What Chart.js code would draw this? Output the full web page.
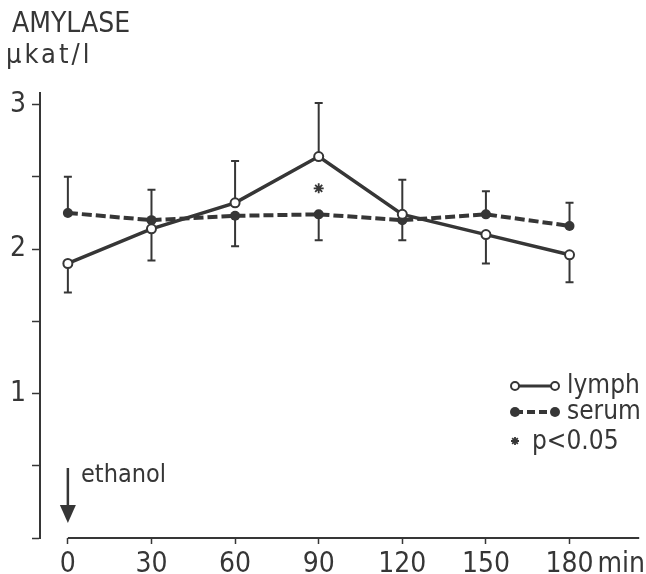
<!DOCTYPE html>
<html lang="en">
<head>
<meta charset="UTF-8">
<title>Amylase lymph vs serum</title>
<style>
    body { margin: 0; background: #ffffff; }
    .chart-box { width: 646px; height: 574px; position: relative; }
</style>
</head>
<body>
<div class="chart-box"><canvas id="chart"></canvas></div>
<script src="https://cdn.jsdelivr.net/npm/chart.js@4.4.0/dist/chart.umd.js"></script>
<script>
    // data
    const minutes = [0, 30, 60, 90, 120, 150, 180];
    const lymph = [1.90, 2.14, 2.32, 2.64, 2.24, 2.10, 1.96];
    const serum = [2.25, 2.20, 2.23, 2.24, 2.20, 2.24, 2.16];
    // one-sided error bars: value at the end of each bar
    const lymphErrEnd = [1.70, 1.92, 2.61, 3.01, 2.48, 1.90, 1.77];
    const serumErrEnd = [2.50, 2.41, 2.02, 2.06, 2.06, 2.40, 2.32];
    // significance marker (p<0.05)
    const sigMinutes = [90];
    const sigValues = [2.42];

    const xTicks = [0, 30, 60, 90, 120, 150, 180];
    const yTicks = [0, 0.5, 1, 1.5, 2, 2.5, 3];
    const yLabelled = [1, 2, 3];

    const ink = '#363636';
    const fontFamily = "'DejaVu Sans Condensed', 'Liberation Sans Narrow', 'Roboto', sans-serif";

    const toPoints = (xs, ys) => xs.map((x, i) => ({ x: x, y: ys[i] }));

    function drawStar(ctx, cx, cy, r) {
        ctx.beginPath();
        for (let k = 0; k < 4; k++) {
            const a = k * Math.PI / 4;
            ctx.moveTo(cx - r * Math.cos(a), cy - r * Math.sin(a));
            ctx.lineTo(cx + r * Math.cos(a), cy + r * Math.sin(a));
        }
        ctx.stroke();
    }

    // error bars, drawn under the lines
    const errorBars = {
        id: 'errorBars',
        beforeDatasetsDraw(chart) {
            const { ctx, scales: { x, y } } = chart;
            ctx.save();
            ctx.strokeStyle = ink;
            ctx.lineWidth = 2;
            const draw = (vals, ends) => {
                vals.forEach((v, i) => {
                    const px = x.getPixelForValue(minutes[i]);
                    const y0 = y.getPixelForValue(v);
                    const y1 = y.getPixelForValue(ends[i]);
                    ctx.beginPath();
                    ctx.moveTo(px, y0);
                    ctx.lineTo(px, y1);
                    ctx.moveTo(px - 4, y1);
                    ctx.lineTo(px + 4, y1);
                    ctx.stroke();
                });
            };
            draw(lymph, lymphErrEnd);
            draw(serum, serumErrEnd);
            ctx.restore();
        }
    };

    // axis line, titles, arrow and legend
    const decorations = {
        id: 'decorations',
        afterDraw(chart) {
            const { ctx, chartArea, scales: { x } } = chart;
            ctx.save();
            ctx.strokeStyle = ink;
            ctx.fillStyle = ink;

            // x axis line starts at 0, away from the y axis
            ctx.lineWidth = 2;
            ctx.beginPath();
            ctx.moveTo(x.getPixelForValue(0), chartArea.bottom);
            ctx.lineTo(chartArea.right, chartArea.bottom);
            ctx.stroke();

            // unit after last tick label
            ctx.font = '28px ' + fontFamily;
            ctx.textBaseline = 'alphabetic';
            ctx.textAlign = 'left';
            const p180 = x.getPixelForValue(180);
            const w180 = ctx.measureText('180').width;
            ctx.fillText('min', p180 + w180 / 2 + 4, 572);

            // y axis title
            ctx.font = '28px ' + fontFamily;
            ctx.fillText('AMYLASE', 12, 32);
            ctx.font = '27px ' + fontFamily;
            if ('letterSpacing' in ctx) ctx.letterSpacing = '3px';
            ctx.fillText('\u00b5kat/l', 6, 63);
            if ('letterSpacing' in ctx) ctx.letterSpacing = '0px';

            // ethanol arrow
            const p0 = x.getPixelForValue(0);
            ctx.lineWidth = 2.5;
            ctx.beginPath();
            ctx.moveTo(p0, 468);
            ctx.lineTo(p0, 508);
            ctx.stroke();
            ctx.beginPath();
            ctx.moveTo(p0 - 8, 505);
            ctx.lineTo(p0 + 8, 505);
            ctx.lineTo(p0, 523);
            ctx.closePath();
            ctx.fill();
            ctx.font = '25px ' + fontFamily;
            ctx.fillText('ethanol', 81, 482);

            // legend
            const lx0 = 515, lx1 = 555, tx = 567;
            const rowLymph = 386, rowSerum = 412, rowSig = 441;
            ctx.font = '26px ' + fontFamily;

            ctx.lineWidth = 3;
            ctx.beginPath();
            ctx.moveTo(lx0, rowLymph);
            ctx.lineTo(lx1, rowLymph);
            ctx.stroke();
            [lx0, lx1].forEach(cx => {
                ctx.beginPath();
                ctx.arc(cx, rowLymph, 4, 0, Math.PI * 2);
                ctx.fillStyle = '#ffffff';
                ctx.fill();
                ctx.lineWidth = 2;
                ctx.stroke();
            });
            ctx.fillStyle = ink;
            ctx.fillText('lymph', tx, rowLymph + 7);

            ctx.lineWidth = 4;
            ctx.setLineDash([8, 4]);
            ctx.beginPath();
            ctx.moveTo(lx0, rowSerum);
            ctx.lineTo(lx1, rowSerum);
            ctx.stroke();
            ctx.setLineDash([]);
            [lx0, lx1].forEach(cx => {
                ctx.beginPath();
                ctx.arc(cx, rowSerum, 5, 0, Math.PI * 2);
                ctx.fill();
            });
            ctx.fillText('serum', tx, rowSerum + 7);

            ctx.lineWidth = 1.8;
            drawStar(ctx, lx0, rowSig, 4);
            ctx.fillText('p<0.05', 532, rowSig + 8);

            ctx.restore();
        }
    };

    const chart = new Chart(document.getElementById('chart'), {
        type: 'line',
        data: {
            datasets: [
                {
                    label: 'serum',
                    data: toPoints(minutes, serum),
                    borderColor: ink,
                    backgroundColor: ink,
                    borderWidth: 4,
                    borderDash: [10, 4],
                    pointRadius: 5,
                    pointBorderWidth: 0,
                    pointBackgroundColor: ink,
                    order: 1
                },
                {
                    label: 'lymph',
                    data: toPoints(minutes, lymph),
                    borderColor: ink,
                    borderWidth: 3.5,
                    pointRadius: 4.5,
                    pointBorderWidth: 2,
                    pointBackgroundColor: '#ffffff',
                    pointBorderColor: ink,
                    order: 0
                },
                {
                    label: 'p<0.05',
                    data: toPoints(sigMinutes, sigValues),
                    showLine: false,
                    pointStyle: 'star',
                    pointRadius: 5,
                    pointBorderWidth: 1.8,
                    pointBorderColor: ink,
                    order: 2
                }
            ]
        },
        options: {
            responsive: true,
            maintainAspectRatio: false,
            animation: false,
            layout: { padding: { top: 93, right: 3, left: 0, bottom: 0 } },
            plugins: {
                legend: { display: false },
                tooltip: { enabled: false }
            },
            scales: {
                x: {
                    type: 'linear',
                    min: -10,
                    max: 205,
                    afterBuildTicks: s => { s.ticks = xTicks.map(v => ({ value: v })); },
                    afterFit: s => { s.height = 36; },
                    border: { display: false },
                    grid: { drawOnChartArea: false, tickLength: 6, tickWidth: 1.5, tickColor: ink },
                    ticks: {
                        color: ink,
                        padding: 4,
                        maxRotation: 0,
                        font: { family: fontFamily, size: 28 }
                    }
                },
                y: {
                    min: 0,
                    max: 3.08,
                    afterBuildTicks: s => { s.ticks = yTicks.map(v => ({ value: v })); },
                    afterFit: s => { s.width = 40; },
                    border: { display: true, color: ink, width: 2 },
                    grid: { drawOnChartArea: false, tickLength: 8, tickWidth: 1.5, tickColor: ink },
                    ticks: {
                        color: ink,
                        padding: 6,
                        font: { family: fontFamily, size: 28 },
                        callback: v => yLabelled.includes(v) ? String(v) : ''
                    }
                }
            }
        },
        plugins: [errorBars, decorations]
    });
</script>
</body>
</html>
